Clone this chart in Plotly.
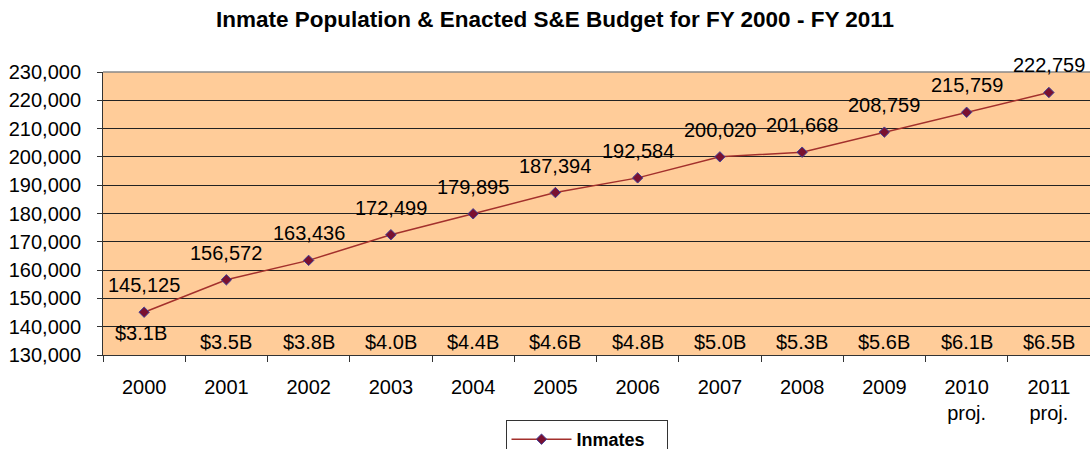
import plotly.graph_objects as go

years = ["2000", "2001", "2002", "2003", "2004", "2005", "2006", "2007", "2008", "2009", "2010<br>proj.", "2011<br>proj."]
inmates = [145125, 156572, 163436, 172499, 179895, 187394, 192584, 200020, 201668, 208759, 215759, 222759]
inmate_labels = ["145,125", "156,572", "163,436", "172,499", "179,895", "187,394", "192,584", "200,020", "201,668", "208,759", "215,759", "222,759"]
budgets = ["$3.1B", "$3.5B", "$3.8B", "$4.0B", "$4.4B", "$4.6B", "$4.8B", "$5.0B", "$5.3B", "$5.6B", "$6.1B", "$6.5B"]

FONT = "Liberation Sans, Arial, sans-serif"

fig = go.Figure()
fig.add_trace(go.Scatter(
    x=years, y=inmates, mode="lines+markers", name="Inmates",
    line=dict(color="#A3302C", width=1.5),
    marker=dict(symbol="diamond", size=8, color="#7A1030", line=dict(color="#40409A", width=1)),
    cliponaxis=False,
))

annotations = []
for i, (v, lab) in enumerate(zip(inmates, inmate_labels)):
    annotations.append(dict(x=i, y=v, xref="x", yref="y", text=lab, showarrow=False, yshift=27,
                            font=dict(family=FONT, size=20, color="#000000")))
for i, b in enumerate(budgets):
    annotations.append(dict(x=i, y=134600, xref="x", yref="y", text=b, showarrow=False,
                            yshift=9 if i == 0 else 0, xshift=-3 if i == 0 else 0,
                            font=dict(family=FONT, size=20, color="#000000")))

fig.update_layout(
    width=1090, height=449,
    margin=dict(l=103, r=0, t=72, b=94, autoexpand=False),
    paper_bgcolor="white",
    plot_bgcolor="#FFCC99",
    font=dict(family=FONT, size=20, color="#000000"),
    title=dict(text="<b>Inmate Population & Enacted S&E Budget for FY 2000 - FY 2011</b>",
               x=555 / 1090, xanchor="center", xref="container",
               y=1 - 19 / 449, yanchor="middle", yref="container",
               font=dict(family=FONT, size=22.5, color="#000000")),
    xaxis=dict(type="category", range=[-0.5, 11.5], showgrid=False, zeroline=False,
               showline=True, linecolor="#333333", linewidth=1,
               ticks="outside", ticklen=6, tickcolor="#333333", tickson="boundaries",
               tickfont=dict(family=FONT, size=20), ticklabelstandoff=14),
    yaxis=dict(range=[130000, 230000], dtick=10000, tickformat=",d",
               showgrid=True, gridcolor="#222222", gridwidth=1, zeroline=False,
               showline=True, linecolor="#333333", linewidth=1,
               ticks="outside", ticklen=5, tickcolor="#333333",
               tickfont=dict(family=FONT, size=20), ticklabelstandoff=12),
    showlegend=True,
    legend=dict(orientation="h", xref="container", yref="container",
                x=586.5 / 1090, xanchor="center", y=1 - 420 / 449, yanchor="top",
                bordercolor="#333333", borderwidth=1, bgcolor="white",
                itemwidth=60, entrywidth=85,
                font=dict(family=FONT, size=18, color="#000000", weight="bold")),
    annotations=annotations,
    shapes=[dict(type="line", xref="paper", yref="paper", x0=0, x1=1, y0=1, y1=1,
                 line=dict(color="#888888", width=1.5))],
)

fig.write_html("out.html", config={"displayModeBar": False},
               post_script="document.body.style.margin='0';")
